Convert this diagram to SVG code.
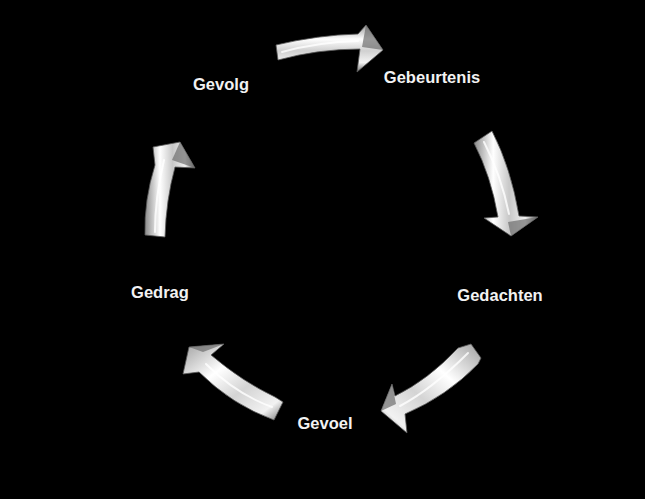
<svg xmlns="http://www.w3.org/2000/svg" width="645" height="499" viewBox="0 0 645 499">
<defs>
<linearGradient id="gH" x1="0" y1="0" x2="0" y2="1">
<stop offset="0" stop-color="#9a9a9a"/><stop offset="0.3" stop-color="#ffffff"/><stop offset="0.55" stop-color="#d0d0d0"/><stop offset="0.8" stop-color="#f4f4f4"/><stop offset="1" stop-color="#707070"/>
</linearGradient>
<linearGradient id="gV" x1="0" y1="0" x2="1" y2="0">
<stop offset="0" stop-color="#8a8a8a"/><stop offset="0.3" stop-color="#ffffff"/><stop offset="0.55" stop-color="#c8c8c8"/><stop offset="0.8" stop-color="#f0f0f0"/><stop offset="1" stop-color="#6a6a6a"/>
</linearGradient>
<linearGradient id="gD" x1="0" y1="0" x2="1" y2="1">
<stop offset="0" stop-color="#a0a0a0"/><stop offset="0.35" stop-color="#ffffff"/><stop offset="0.6" stop-color="#d4d4d4"/><stop offset="0.85" stop-color="#f2f2f2"/><stop offset="1" stop-color="#777777"/>
</linearGradient>
<linearGradient id="gD2" x1="1" y1="0" x2="0" y2="1">
<stop offset="0" stop-color="#a0a0a0"/><stop offset="0.35" stop-color="#ffffff"/><stop offset="0.6" stop-color="#d4d4d4"/><stop offset="0.85" stop-color="#f2f2f2"/><stop offset="1" stop-color="#777777"/>
</linearGradient>
</defs>
<style>
.arrow{stroke:#5a5a5a;stroke-width:0.8;stroke-linejoin:round}
.hl{fill:none;stroke:#ffffff;stroke-width:2;stroke-linecap:round;opacity:0.8}
.facet{fill:#6e6e6e;opacity:0.7}
.lbl{font-family:"Liberation Sans",Arial,sans-serif;font-weight:bold;font-size:16.5px;fill:#f2f2f2;text-anchor:middle}
</style>
<rect width="645" height="499" fill="#000"/>
<g id="connectors">
<g id="arrow-top">
<path class="arrow" fill="url(#gH)" d="M276,45 Q318,35 358,34 L366,25 L383,50 L357,72 L360,49 Q318,49 278,60 Z"/>
<path class="hl" d="M282,52 Q318,42 358,41"/>
<path class="facet" d="M366,25 L383,50 L362,47 Z"/>
</g>
<g id="arrow-right">
<path class="arrow" fill="url(#gV)" d="M474,143 L492,131 Q511,168 519,216 L538,217 L511,236 L484,218 L498,217 Q491,176 474,143 Z"/>
<path class="hl" d="M484,142 Q501,175 509,214"/>
<path class="facet" d="M511,236 L538,217 L508,222 Z"/>
</g>
<g id="arrow-bottom-right">
<path class="arrow" fill="url(#gD2)" d="M458,348 L471,344 L481,358 L478,364 Q447,396 405,414 L407,433 L381,411 L392,384 L395,396 Q428,380 458,348 Z"/>
<path class="hl" d="M468,353 Q432,389 400,406"/>
<path class="facet" d="M392,384 L381,411 L396,404 Z"/>
</g>
<g id="arrow-bottom-left">
<path class="arrow" fill="url(#gD)" d="M275,397 L283,402 L274,420 Q232,405 199,372 L183,374 L189,347 L224,344 L211,355 Q243,382 275,397 Z"/>
<path class="hl" d="M272,407 Q236,394 206,364"/>
<path class="facet" d="M189,347 L224,344 L203,352 Z"/>
</g>
<g id="arrow-left">
<path class="arrow" fill="url(#gV)" d="M145,235 L165,237 Q166,200 175,167 L195,168 L180,142 L153,147 L155,165 Q144,200 145,235 Z"/>
<path class="hl" d="M155,232 Q155,198 164,160"/>
<path class="facet" d="M180,142 L195,168 L172,160 Z"/>
</g>
</g>
<g id="node-gebeurtenis"><text class="lbl" x="432" y="83">Gebeurtenis</text></g>
<g id="node-gedachten"><text class="lbl" x="500" y="301">Gedachten</text></g>
<g id="node-gevoel"><text class="lbl" x="325" y="429">Gevoel</text></g>
<g id="node-gedrag"><text class="lbl" x="160" y="298">Gedrag</text></g>
<g id="node-gevolg"><text class="lbl" x="221" y="90">Gevolg</text></g>
</svg>
